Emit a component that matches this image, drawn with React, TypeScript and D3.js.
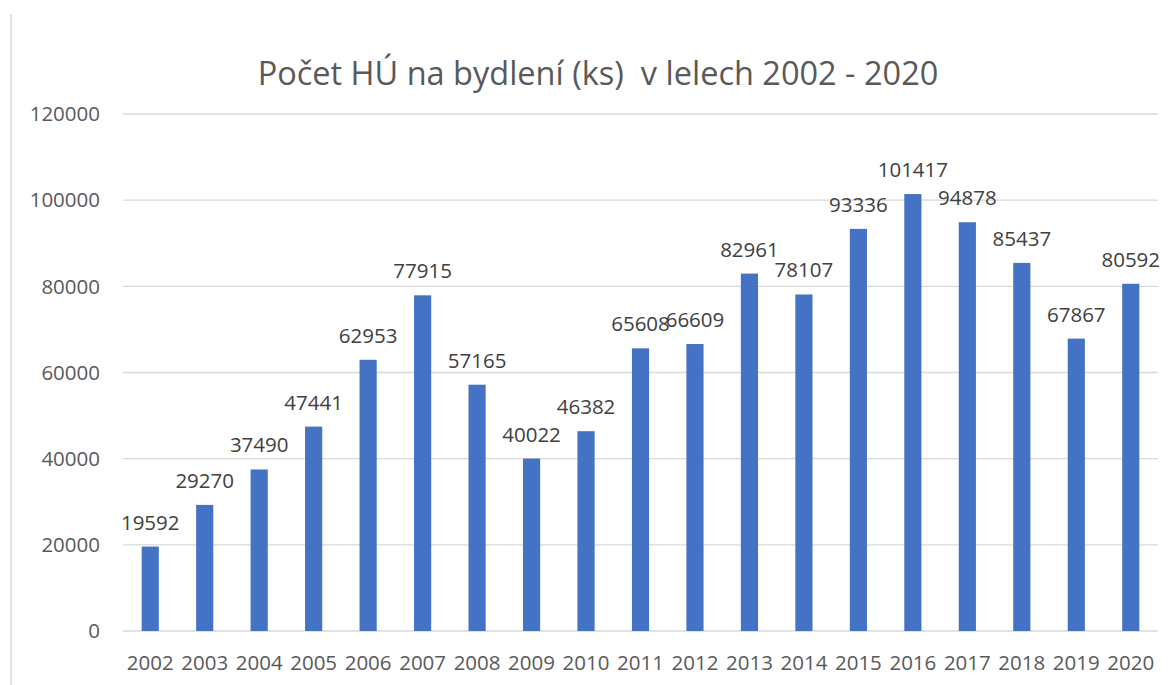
import React from 'react';
import { scaleBand, scaleLinear } from 'd3';

const years = ['2002', '2003', '2004', '2005', '2006', '2007', '2008', '2009', '2010', '2011', '2012', '2013', '2014', '2015', '2016', '2017', '2018', '2019', '2020'];
const counts = [19592, 29270, 37490, 47441, 62953, 77915, 57165, 40022, 46382, 65608, 66609, 82961, 78107, 93336, 101417, 94878, 85437, 67867, 80592];
const yTicks = [0, 20000, 40000, 60000, 80000, 100000, 120000];
const title = 'Počet HÚ na bydlení (ks)  v lelech 2002 - 2020';

const W = 1175, H = 685;
const font = '"Open Sans", sans-serif';
const textColor = '#595959';
const fs = 20.5;

export default function App() {
    const x = scaleBand().domain(years).range([123, 1158]).padding(0);
    const y = scaleLinear().domain([0, 120000]).range([631, 114]);
    const barW = x.bandwidth() * 0.315;

    return (
        <svg width={W} height={H} style={{ position: 'absolute', left: 0, top: 0, background: '#fff' }}>
            <line x1={11} x2={11} y1={14} y2={H} stroke="#d9d9d9" strokeWidth={1.5} />
            <text x={598} y={85} textAnchor="middle" fontFamily={font} fontSize={32.5} fill={textColor} style={{ whiteSpace: 'pre' }}>{title}</text>
            {yTicks.map(t => (
                <g key={t}>
                    <line x1={123} x2={1158} y1={y(t)} y2={y(t)} stroke="#d9d9d9" strokeWidth={1.3} />
                    <text x={100} y={y(t)} dy="0.35em" textAnchor="end" fontFamily={font} fontSize={fs} fill={textColor}>{t}</text>
                </g>
            ))}
            {years.map((yr, i) => {
                const cx = x(yr)! + x.bandwidth() / 2;
                return (
                    <g key={yr}>
                        <rect x={cx - barW / 2} y={y(counts[i])} width={barW} height={y(0) - y(counts[i])} fill="#4472c4" />
                        <text x={cx} y={y(counts[i]) - 17} textAnchor="middle" fontFamily={font} fontSize={fs} fill="#404040">{counts[i]}</text>
                        <text x={cx} y={670} textAnchor="middle" fontFamily={font} fontSize={fs} fill={textColor}>{yr}</text>
                    </g>
                );
            })}
        </svg>
    );
}
